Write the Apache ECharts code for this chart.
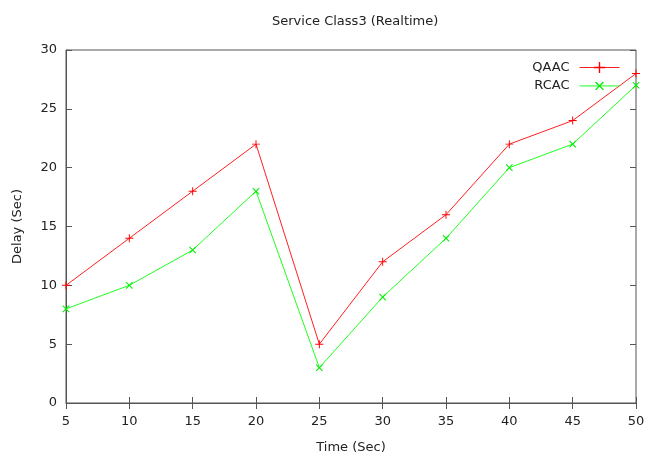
<!DOCTYPE html>
<html><head><meta charset="utf-8">
<script src="https://cdn.jsdelivr.net/npm/echarts@6/dist/echarts.min.js"></script>
<style>html,body{margin:0;padding:0;background:#fff}#c{width:646px;height:455px}</style>
</head><body><div id="c"></div>
<script>
const times = [5,10,15,20,25,30,35,40,45,50];
const qaac = [10,14,18,22,5,12,16,22,24,28];
const rcac = [8,10,13,18,3,9,14,20,22,27];
const xTicks = [5,10,15,20,25,30,35,40,45,50];
const yTicks = [0,5,10,15,20,25,30];

const plus = 'path://M4.4,0h1.2v10h-1.2z M0,4.4h10v1.2h-10z';
const font = 'DejaVu Sans';
const axisCol = '#555';
const txtCol = '#222';
const fs = 13;
const chart = echarts.init(document.getElementById('c'), null, {renderer:'canvas'});
const tickCommon = {show:true, inside:true, length:6, lineStyle:{color:axisCol, width:1}};
chart.setOption({
  animation:false,
  backgroundColor:'#fff',
  title:{text:'Service Class3 (Realtime)', left:267, top:10,
    textStyle:{fontFamily:font, fontSize:fs, fontWeight:'normal', color:txtCol}},
  legend:{right:21, top:56, orient:'vertical', align:'right', itemWidth:40, itemHeight:14, itemGap:4,
    lineStyle:{width:1},
    textStyle:{fontFamily:font, fontSize:fs, color:txtCol, padding:[0,5,0,0]},
    data:['QAAC','RCAC']},
  grid:{left:66, right:10, top:50, bottom:52, show:true, borderColor:axisCol, borderWidth:1,
    containLabel:false, outerBoundsMode:'none'},
  xAxis:[{type:'value', min:5, max:50, interval:5, position:'bottom',
    name:'Time (Sec)', nameLocation:'middle', nameGap:38,
    nameTextStyle:{fontFamily:font, fontSize:fs, color:txtCol},
    axisLine:{show:true, lineStyle:{color:axisCol}}, axisTick:tickCommon,
    axisLabel:{fontFamily:font, fontSize:fs, color:txtCol, margin:12},
    splitLine:{show:false}},
   {type:'value', min:5, max:50, interval:5, position:'top',
    axisLine:{show:false}, axisTick:tickCommon, axisLabel:{show:false}, splitLine:{show:false}}],
  yAxis:[{type:'value', min:0, max:30, interval:5, position:'left',
    name:'Delay (Sec)', nameLocation:'middle', nameGap:42,
    nameTextStyle:{fontFamily:font, fontSize:fs, color:txtCol},
    axisLine:{show:true, lineStyle:{color:axisCol}}, axisTick:tickCommon,
    axisLabel:{fontFamily:font, fontSize:fs, color:txtCol, margin:9},
    splitLine:{show:false}},
   {type:'value', min:0, max:30, interval:5, position:'right',
    axisLine:{show:false}, axisTick:tickCommon, axisLabel:{show:false}, splitLine:{show:false}}],
  series:[
    {name:'QAAC', type:'line', data:times.map((t,i)=>[t,qaac[i]]),
     symbol:plus, symbolSize:8, showAllSymbol:true,
     lineStyle:{color:'#ff2020', width:1}, itemStyle:{color:'#ff0000'}},
    {name:'RCAC', type:'line', data:times.map((t,i)=>[t,rcac[i]]),
     symbol:plus, symbolSize:9, symbolRotate:45, showAllSymbol:true,
     lineStyle:{color:'#20ff20', width:1}, itemStyle:{color:'#00ee00'}}
  ]
});
</script></body></html>
